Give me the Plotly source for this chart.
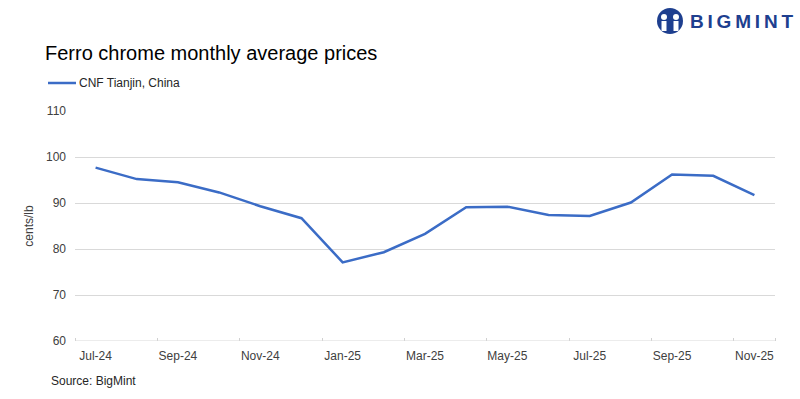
import plotly.graph_objects as go

months = ["Jul-24", "Aug-24", "Sep-24", "Oct-24", "Nov-24", "Dec-24", "Jan-25", "Feb-25",
          "Mar-25", "Apr-25", "May-25", "Jun-25", "Jul-25", "Aug-25", "Sep-25", "Oct-25", "Nov-25"]
prices = [97.7, 95.2, 94.5, 92.3, 89.3, 86.7, 77.1, 79.3, 83.3, 89.1, 89.2, 87.4, 87.2, 90.1, 96.2, 95.9, 91.7]
series_name = "CNF Tianjin, China"
y_ticks = [60, 70, 80, 90, 100, 110]

W, H = 800, 399
L, R, T, B = 75, 25, 111, 58
PW, PH = W - L - R, H - T - B

def px(x):
    return (x - L) / PW

def py(y):
    return (H - B - y) / PH

BLUE = "#3B6CC6"
NAVY = "#1E3F8F"
FONT = "Liberation Sans, Arial, sans-serif"

xs = list(range(len(months)))

fig = go.Figure()
fig.add_trace(go.Scatter(x=xs, y=prices, mode="lines", name=series_name,
                         line=dict(color=BLUE, width=2.5), showlegend=False))

fig.update_layout(
    width=W, height=H,
    margin=dict(l=L, r=R, t=T, b=B),
    paper_bgcolor="white", plot_bgcolor="white",
    font=dict(family=FONT, size=12, color="#404040"),
    xaxis=dict(range=[-0.5, len(months) - 0.5], tickvals=xs[::2], ticktext=months[::2],
               showgrid=False, zeroline=False, showline=False, ticks="",
               ticklabelstandoff=6,
               tickfont=dict(size=12, color="#404040"),
               minor=dict(tickvals=[v - 0.5 for v in xs[::2]] + [len(months) - 0.5],
                          ticks="inside", ticklen=3, tickcolor="#d0d0d0", showgrid=False)),
    yaxis=dict(range=[60, 110], tickvals=y_ticks, showgrid=True, gridcolor="#d9d9d9",
               gridwidth=1, zeroline=False, showline=False, ticks="",
               ticklabelstandoff=8,
               tickfont=dict(size=12, color="#404040"),
               title=dict(text="cents/lb", font=dict(size=12, color="#404040"), standoff=9)),
)

# x axis baseline
fig.add_shape(type="line", xref="paper", yref="y", x0=0, x1=1, y0=60, y1=60,
              line=dict(color="#d9d9d9", width=1))

# title
fig.add_annotation(text="Ferro chrome monthly average prices", xref="paper", yref="paper",
                   x=px(43), y=py(53), xanchor="left", yanchor="middle", showarrow=False,
                   font=dict(size=20, color="#000000", family=FONT))

# legend
fig.add_shape(type="line", xref="paper", yref="paper", x0=px(48), x1=px(76), y0=py(83), y1=py(83),
              line=dict(color=BLUE, width=2.5))
fig.add_annotation(text=series_name, xref="paper", yref="paper", x=px(77), y=py(83),
                   xanchor="left", yanchor="middle", showarrow=False,
                   font=dict(size=12, color="#262626", family=FONT))

# source
fig.add_annotation(text="Source: BigMint", xref="paper", yref="paper", x=px(49), y=py(381),
                   xanchor="left", yanchor="middle", showarrow=False,
                   font=dict(size=12, color="#262626", family=FONT))

# logo
fig.add_shape(type="circle", xref="paper", yref="paper", x0=px(657), x1=px(683), y0=py(34), y1=py(8),
              fillcolor=NAVY, line=dict(width=0))
for cx in (664, 676):
    fig.add_shape(type="circle", xref="paper", yref="paper", x0=px(cx - 3), x1=px(cx + 3),
                  y0=py(20), y1=py(14), fillcolor="white", line=dict(width=0))
    fig.add_shape(type="rect", xref="paper", yref="paper", x0=px(cx - 2.5), x1=px(cx + 2.5),
                  y0=py(31), y1=py(21), fillcolor="white", line=dict(width=0))
fig.add_shape(type="rect", xref="paper", yref="paper", x0=px(669), x1=px(671),
              y0=py(31), y1=py(22), fillcolor=NAVY, line=dict(width=0))
fig.add_annotation(text="\u2009".join("BIGMINT"), xref="paper", yref="paper",
                   x=px(688), y=py(21), xanchor="left", yanchor="middle", showarrow=False,
                   font=dict(size=19, color=NAVY, family=FONT, weight="bold"))

fig.write_html("out.html", config={"displayModeBar": False},
               post_script="document.body.style.margin='0';document.body.style.overflow='hidden';")
